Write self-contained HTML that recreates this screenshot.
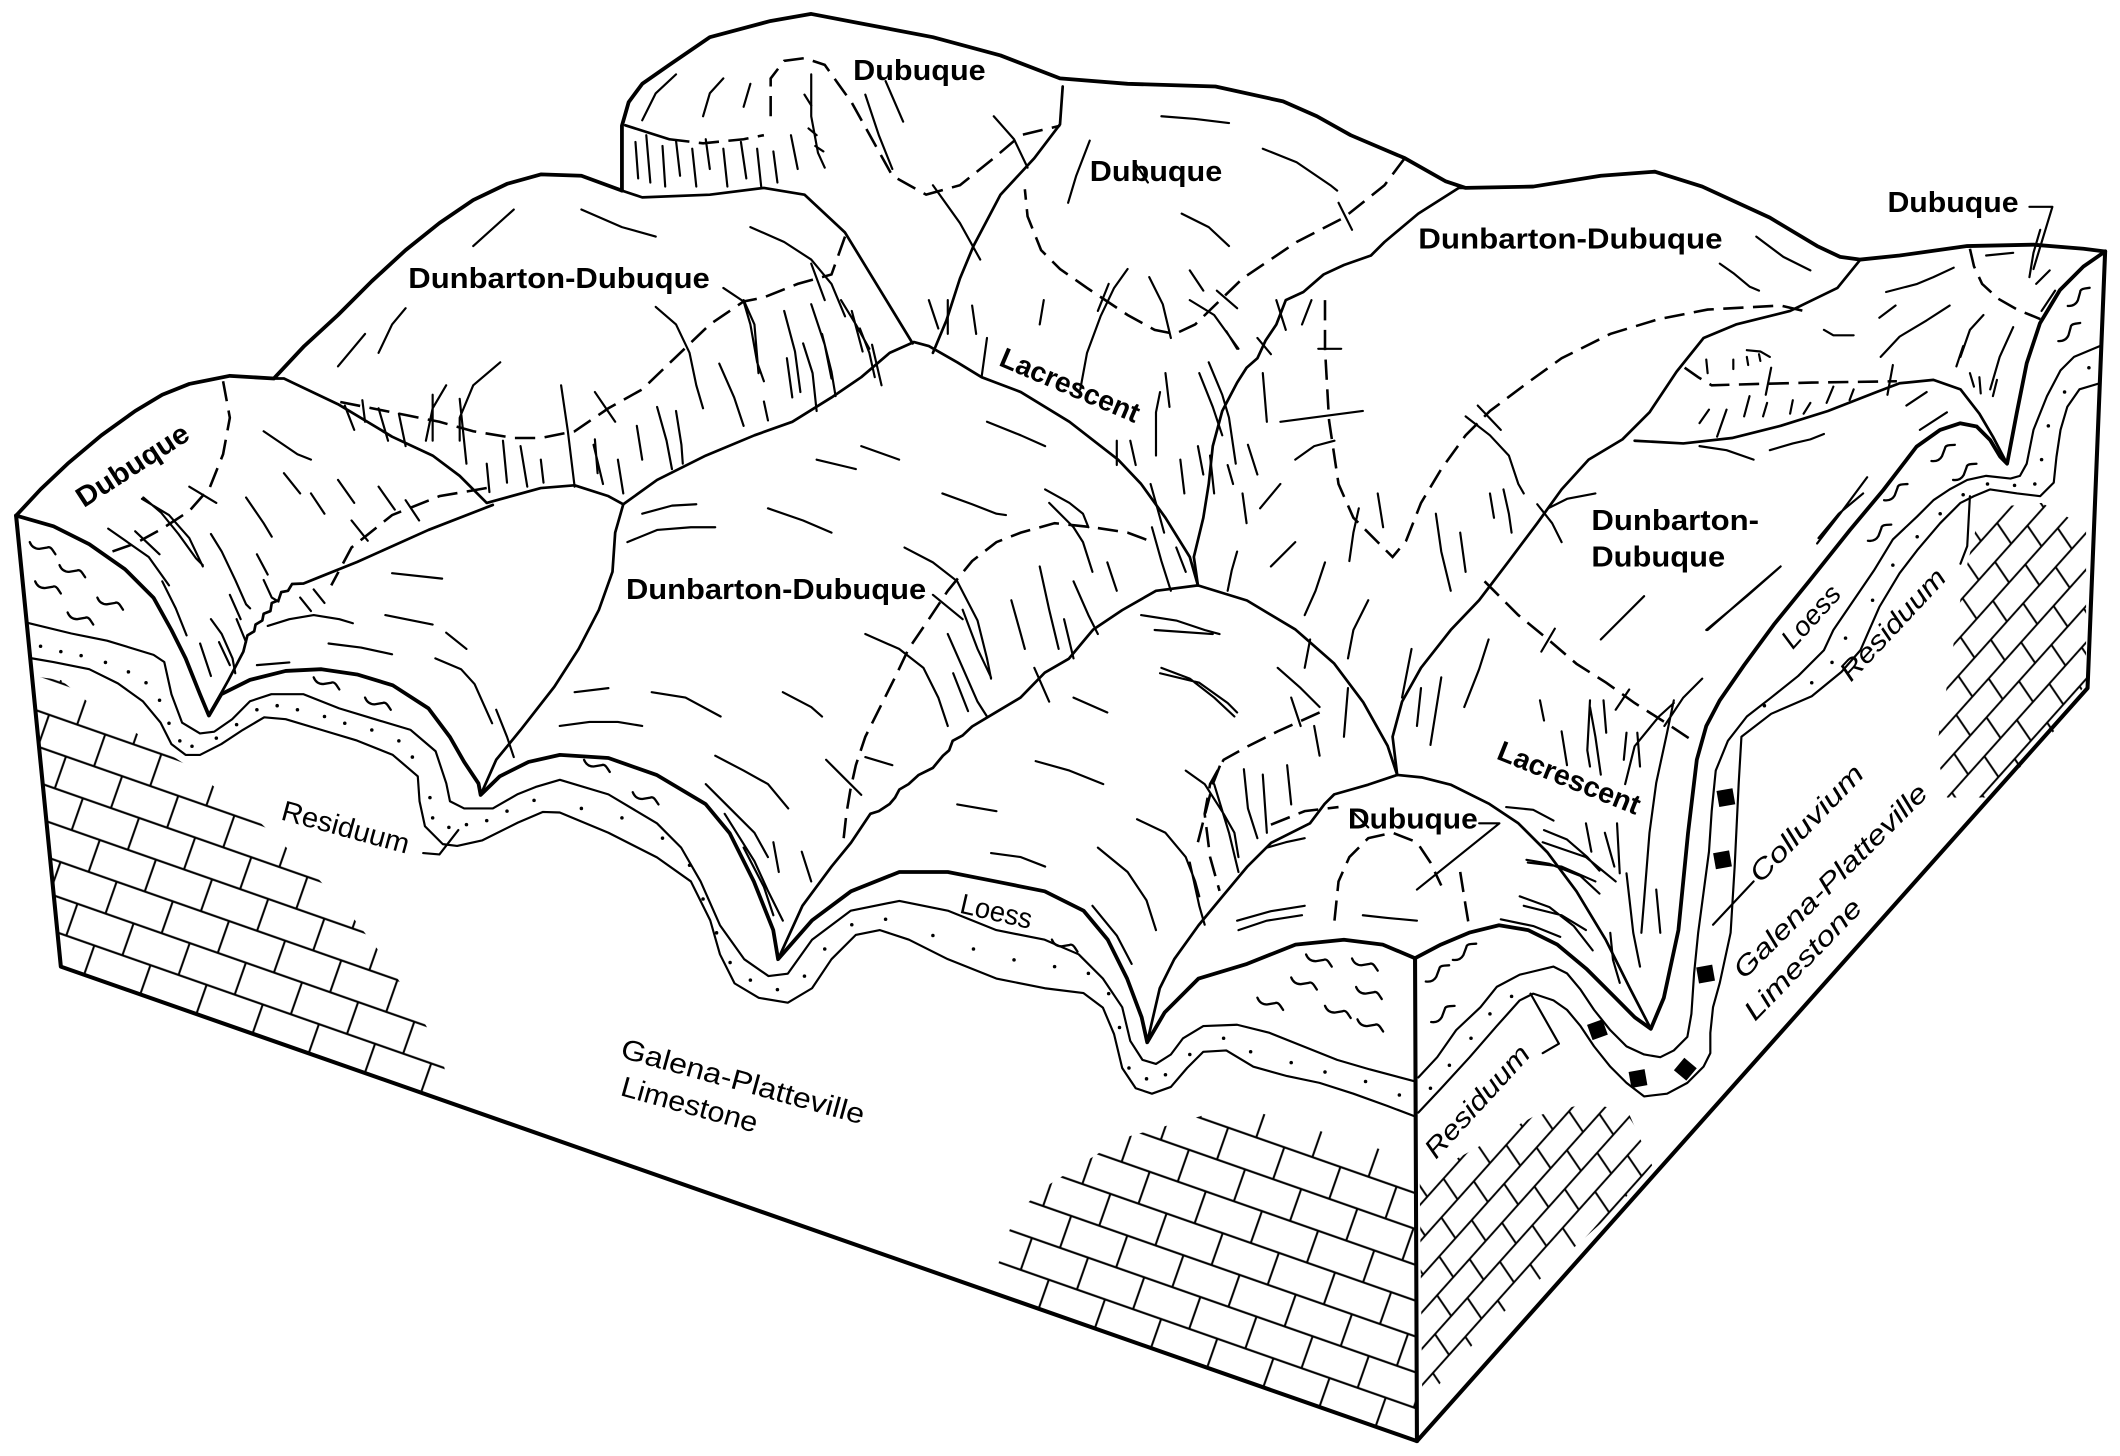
<!DOCTYPE html>
<html><head><meta charset="utf-8"><style>
html,body{margin:0;padding:0;background:#fff;}
svg{display:block;}
.k{fill:none;stroke:#000;stroke-width:2.8;stroke-linejoin:round;stroke-linecap:round;}
.b{fill:none;stroke:#000;stroke-width:3.0;stroke-linejoin:round;stroke-linecap:round;}
.m{fill:none;stroke:#000;stroke-width:2.0;stroke-linejoin:round;stroke-linecap:round;}
.t{fill:none;stroke:#000;stroke-width:1.6;stroke-linejoin:round;stroke-linecap:round;}
.d{fill:none;stroke:#000;stroke-width:1.9;stroke-dasharray:15 7;stroke-linecap:butt;}
.lb{font-family:"Liberation Sans",sans-serif;font-weight:bold;font-size:21px;fill:#000;}
.lr{font-family:"Liberation Sans",sans-serif;font-size:21px;fill:#000;}
.li{font-family:"Liberation Sans",sans-serif;font-style:italic;font-size:20px;fill:#000;}
</style></head><body>
<svg width="2120" height="1456" viewBox="0 0 1568 1077" preserveAspectRatio="none" xmlns="http://www.w3.org/2000/svg">
<defs>
<pattern id="bf" patternUnits="userSpaceOnUse" width="44" height="50" patternTransform="rotate(19.3)">
<path d="M0,12H44M0,37H44M11,12V37M33,37V50M33,0V12" stroke="#000" stroke-width="1.5" fill="none"/>
</pattern>
<pattern id="br" patternUnits="userSpaceOnUse" width="36" height="36" patternTransform="rotate(-48.2) skewX(-14)">
<path d="M0,9H36M0,27H36M9,9V27M27,27V36M27,0V9" stroke="#000" stroke-width="1.5" fill="none"/>
</pattern>
<clipPath id="cL"><polygon points="23,500 45,503 66,520 138,566 192,608 231,645 262,680 287,712 305,742 325,775 335,815 45,715"/></clipPath>
<clipPath id="cF"><polygon points="735,945 750,900 770,880 830,842 915,818 1047,858 1048,1066 735,956"/></clipPath>
<clipPath id="cR"><polygon points="1050,872 1094,848 1134,826 1174,816 1204,822 1222,862 1194,896 1164,923 1134,951 1104,978 1074,1012 1052,1040"/></clipPath>
<clipPath id="cR2"><polygon points="1465,376 1510,372 1543,390 1543,505 1520,540 1490,572 1470,590 1440,590 1432,555 1442,495 1452,430"/></clipPath>
<path id="w" d="M0,-4 Q2,1 7,1 L13,0 Q15,-1 17,2 L19,5" fill="none" stroke="#000" stroke-width="1.7" stroke-linecap="round"/>
</defs>
<rect x="0" y="0" width="1568" height="1077" fill="#fff"/>

<!-- bricks -->
<rect x="0" y="400" width="400" height="450" fill="url(#bf)" clip-path="url(#cL)"/>
<rect x="700" y="800" width="360" height="280" fill="url(#bf)" clip-path="url(#cF)"/>
<rect x="1040" y="800" width="200" height="260" fill="url(#br)" clip-path="url(#cR)"/>
<rect x="1420" y="360" width="140" height="240" fill="url(#br)" clip-path="url(#cR2)"/>

<!-- block outline -->
<polyline class="b" points="11.9,381.4 45,715 1048,1066 1544,509 1557,186"/>
<polyline class="b" points="1046.6,708.8 1048,1066"/>

<!-- front face layers -->
<polyline class="t" points="19.5,460.5 52.8,468.6 79.2,473.9 113.6,484.4 121.5,489.7 126.8,513.5 134.7,534.6 147.9,542.5 158.5,541.2 171.7,532 184.9,518.7 200.7,513.5 224.5,513.5 250.9,524 277.3,532 303.7,539.9 322.2,555.7 330.1,579.5 332.8,592.7 343.3,598 364.5,598 383,587.4 396.2,582.1 414.1,576.8 450,587.6 485.9,609 503.8,627 518.2,652 532.5,684.4 550.4,709.5 568.4,722 582.7,720.2 600.6,695.1 629.3,673.6 665.2,666.4 701,673.6 736.9,688 772.7,695.1 797.8,705.9 815.7,723.8 830,745 836,770 845,784 855,787 866,780 875,768 890,759 915,758 939,764 964,774 989,784 1013,791 1047,800"/>
<polyline class="t" points="23.8,487 39.6,489.7 66,495 87.2,505.5 105.6,518.7 118.8,534.6 126.8,550.4 137.3,558.4 147.9,558.4 163.7,550.4 179.6,539.9 195.4,530.6 211.3,532 237.7,539.9 264.1,547.8 290.5,558.4 309,574.2 310.3,592.7 314.3,611.2 327.5,624.4 338.1,625.7 356.5,621.7 383,608.5 401.4,600.6 414,601 450,616 485.9,634.2 511,652 525.3,680.8 532.5,705.9 543.3,727.4 561.2,738.1 582.7,741.7 600.6,731 615,709.5 632.9,691.6 650.8,688 672.3,695.1 701,709.5 736.9,723.8 772.7,731 801.4,734.6 815.7,745.3 824,765 830,790 840,805 852,809 866,804 878,790 890,778 907,777 927,789 952,796 976,801 1001,809 1026,818 1047,826"/>
<!-- right face layers -->
<polyline class="t" points="1049,797 1063,782 1077,762 1095,745 1107,730 1124,721 1149,715 1159,720 1169,732 1179,747 1191,762 1203,774 1216,780 1228,782 1238,777 1248,767 1251,750 1253,720 1256,690 1260,660 1264,630 1266,600 1269,570 1278,548 1292,530 1310,516 1330,500 1349,481 1356,466 1371,444 1386,422 1400,399 1418,382 1430,370 1442,362 1455,355 1469,352 1487,354 1494,352 1499,343 1504,318 1514,293 1524,274 1534,264 1553,256"/>
<polyline class="t" points="1049,823 1065,806 1087,782 1107,759 1124,740 1134,735 1149,740 1159,747 1169,759 1179,774 1191,789 1203,801 1216,811 1233,809 1248,801 1260,789 1265,779 1265,764 1267,745 1272,727 1280,690 1283,641 1286,579 1288,545 1310,528 1340,515 1362,497 1376,481 1390,449 1405,424 1418,407 1435,387 1450,372 1460,367 1472,362 1492,365 1509,367 1519,357 1521,338 1524,318 1529,301 1538,288 1553,283.5"/>

<!-- surface profiles -->
<polyline class="k" points="11.9,381.4 39.6,389.3 66,402.5 92.4,421 113.6,442.2 126.8,466 137.3,487 147.9,513.5 154.5,529.3 163.7,513.5 184.9,502.9 211.3,496.3 237.7,495 264.1,498.9 290.5,506.9 316.9,524 332.8,545.2 343.3,563.6 353.9,579.5 355.5,588 369.7,574.2 390.9,563.6 414.1,558.4 450,560.7 485.6,573.2 521.8,594.7 539.7,616.3 557.6,652.1 571.9,688 575.5,709.5 600.6,680.8 629.4,659.3 665.2,645 701,645 736.9,652.1 772.7,659.3 801.4,673.6 819.3,695.1 833.6,723.8 844.4,752.5 848.5,771 861.4,748.9 886.5,723.8 922.3,713 958.2,698.7 994,695.1 1022.7,698.7 1046.6,708.8"/>
<polyline class="k" points="1046.6,708.8 1065.7,698.7 1087.2,689.7 1108.7,684.4 1130.2,688 1151.8,698.7 1173.3,716.6 1194.8,738.1 1209.1,752.5 1221,761 1230.6,738.1 1241.4,688 1248.5,616.3 1255,562 1262,537 1272,518 1290,492 1312,462 1338,430 1368.3,392 1393,362.4 1417.6,330.3 1434.9,318 1449.7,313.1 1462,315.5 1471.9,325.4 1479.3,337.7 1484.5,343 1491.6,305.7 1499,268.7 1508.8,239.1 1523.6,214.5 1540.9,197.2 1557,186"/>

<!-- skyline and ridges -->
<polyline class="k" points="11.9,381.4 30,362 50,343 75,322 100,304 120,292 140,284 170,278 202.5,280 225,256 250,233 275,208 300,185 325,165 350,148 375,136 400,129 430,130 460,141"/>
<polyline class="k" points="460,141 460,93 465,75.5 475,62 495,48 525,27.5 570,15.5 600,10.3 635,17 690,27.5 740,41 784,58 834,62 899,64 949,75 974,86 999,100 1039,117 1069,134 1084,139 1134,138 1184,130 1224,127 1259,138 1309,161 1344,182 1361,190 1376,192 1405,189 1455,182 1504,181 1541,184 1557,186"/>
<polyline class="m" points="202.5,280 210,280 250,299 290,323 320,337 340,352 360,372 400,361 425,359 450,367 461,373"/>
<polyline class="m" points="461,373 486,355 522,337 558,322 586,312 615,294 637,279 658,261 676,253 687,256 708,268 726,279 755,290 791,312 827,340 844,358 862,383 880,412 886,433"/>
<polyline class="m" points="461,373 455,394 453,423 443,451 428,480 410,508 385,540 367,562 355.5,588"/>
<polyline class="m" points="575.5,709.5 593.5,670 615,641 629.4,623.4 643.7,602 650,600 658,594.7 662,590 665.2,584 672,580 679.5,573.2 690,568 697.4,559 702,555 704.6,548 712,544 719,537.4 737,526.6 754.8,516 772.7,497.6 790.6,487.2 808.5,465.7 830,451.3 855,437 886,433 922.3,444.2 958.2,465.7 986.8,490.8 1008.3,519.5 1026.3,551.7 1033.4,573.2"/>
<polyline class="m" points="1033.4,573.2 1012,580.4 986.8,587.6 979.7,594.7 968.9,609 940.2,623.4 922.3,641.3 904.4,662.8 886.5,684.4 868.5,709.5 857.8,731 848.5,771"/>
<polyline class="m" points="1033.4,573.2 1051.4,575 1072.9,580.4 1101.6,594.7 1123,609 1144.6,630.6 1166,659.3 1187.6,695.1 1205.5,731 1221,761"/>
<polyline class="m" points="1376,192 1359,213 1324,230 1284,240 1260,250 1240,275 1220,305 1200,325 1175,340 1155,362 1137,387 1116,415 1094,444 1073,466 1051,494 1037,519 1030,545 1033.4,573.2"/>
<polyline class="m" points="1209,326 1245,328 1281,324 1317,315 1352,304 1388,290 1405,283.5 1430,281 1450,288 1464,306 1474,323 1484.5,343"/>
<polyline class="m" points="1084,139 1079,139 1049,158 1024,179 1014,189 994,196 979,203 964,216 951,222 944,240 936,252 930,265 922,272 915,283 904,304 897,330 894,358 890,383 883,412 886,433"/>
<polyline class="m" points="460,141 475,146 525,144 565,139 595,144 625,172 650,213 675,254"/>
<polyline class="m" points="462.5,92.7 495,103"/>
<polyline class="m" points="364.5,373.5 316.9,392 264.1,415.7 237.7,426.3 224.5,431.6 216,432 213,437 208,438 206,444 201,446 200,452 195,454 194,459 189,462 188,467 183,470 180,482 169,503 155.8,526.7"/>
<polyline class="m" points="786,64 784,92 765,117 740,144 720,182 710,206 700,237 690,261"/>
<polyline class="t" points="600,55 600,86 605,113 610,124"/>
<polyline class="t" points="730,250 726,279"/>

<!-- dashed soil boundaries -->
<g class="d">
<polyline points="570,86 570,58 580,45 595,43 610,48 620,62 630,76 645,103 660,130 685,144 710,137 735,117 755,100 784,93"/>
<polyline points="495,103 520,106 550,103 565,100"/>
<polyline points="1039,117 1024,137 994,161 959,179 919,206 884,240 869,247 854,244 834,233 804,213 784,199 770,185 760,160 758,140"/>
<polyline points="625,175 615,203 590,210 565,220 550,223 525,240 500,264 475,288 450,302 425,319 400,324 380,324 350,319 325,312 300,307 275,302 250,297"/>
<polyline points="165,282 170,309 165,336 155,361 140,378 120,391 100,402 80,409"/>
<polyline points="360,361 325,367 290,381 260,405 245,433"/>
<polyline points="624,620 626,602 629,584 633,566 640,545 651,523 662,501 672,480 687,458 701,437 719,415 737,401 755,394 780,387 808,390 834,394 850,400"/>
<polyline points="976,527 945,541 923,552 905,562 895,580 891,602 895,634 902,659"/>
<polyline points="980,222 980,258 983,311 990,358 1001,383 1019,401 1030,412 1040,400 1051,372 1066,347 1084,322 1102,304 1130,283 1155,265 1191,247 1227,236 1263,229 1317,226 1334,230"/>
<polyline points="1098,430 1123,455 1145,473 1166,491 1188,505 1209,520 1231,534 1252,548"/>
<polyline points="1246,272 1256,279 1266,285 1300,284 1340,283 1403,282"/>
<polyline points="1457,184 1460,197 1466,210 1478,221 1492,229 1509,236"/>
<polyline points="987,681 990,652 998,634 1012,620 1030,616 1048,623 1058,638 1066,655"/>
<polyline points="1080,645 1084,670 1087,688"/>
<polyline points="886,623 897,580 904,562"/>
<polyline points="940,610 965,600 990,597"/>
</g>

<!-- hachures and form lines -->
<path class="t" d="
M195,319 L220,336 L230,340 M105,369 L125,381 L140,398 L150,419 M80,391 L110,412 L125,433
M106,368 L119,379 L132,395 L145,413 L150,418 M156,395 L164,408 L174,429 L182,447 L185,450
M182,368 L195,387 L201,397 M148,476 L156,500 M156,458 L164,469 L172,487 L174,498 M195,429 L201,442 L206,445
M120,430 L130,450 L138,470 M170,440 L178,458 M190,410 L198,425 M210,350 L222,365 M230,365 L240,380
M250,355 L262,372 M260,385 L272,400 M280,360 L292,377 M300,370 L310,385
M198,463 L214,458 L232,455 L251,458 L261,461 M285,455 L320,462 M243,476 L267,479 L290,484 M190,492 L214,490
M290,424 L327,428 M322,487 L341,495 L351,506 L364,535 M367,525 L375,545 L380,560 M330,468 L345,480
M162,475 L170,492 M175,458 L182,475 M222,442 L230,452 M232,436 L240,446
M280,302 L287,326 M295,306 L300,330 M320,292 L320,326 M340,295 L345,343 M360,343 L362,364 M372,326 L375,357
M385,330 L390,360 M400,340 L402,357 M415,285 L420,319 L425,360 M440,325 L442,350 M255,300 L262,318 M268,296 L270,312
M350,182 L380,155 M430,155 L460,168 L485,175 M555,168 L580,179 L600,192 L615,210 L625,234
M485,227 L500,240 L510,261 L515,285 L520,302 M535,213 L550,223 L555,240 L560,268 L565,282
M300,228 L290,240 L280,261 M270,247 L250,271 M370,268 L350,285 L340,309 L340,326 M330,285 L320,302 L315,326
M580,230 L588,260 L592,290 M600,225 L610,255 L615,280 M630,230 L638,260 M645,255 L652,285
M690,137 L710,165 L725,192 M735,86 L750,103 L760,124 M859,86 L884,88 L909,91 M934,110 L959,120 L984,137 L989,141
M874,158 L894,168 L909,182 M834,199 L824,213 L814,234 L804,261 L799,288 M894,268 L904,292 L909,309 L914,343
M640,70 L650,100 L660,125 M655,60 L668,90 M595,70 L600,78 M598,95 L604,100 M603,108 L609,112
M550,222 L558,240 L561,276 M582,265 L586,294 M594,254 L601,276 L604,304 M608,247 L615,275 L618,293
M622,222 L633,240 L643,258 M636,243 L643,261 L647,279 M471,315 L475,340 M486,301 L493,326 L497,347
M439,329 L446,358 M457,340 L461,365 M500,304 L504,329 L505,343 M532,269 L543,294 L550,315 M565,297 L568,311
M687,222 L694,243 M701,222 L701,247 M719,226 L722,247 M772,222 L769,240
M880,222 L898,233 L916,258 M944,222 L951,244 M970,222 L963,240 M934,276 L937,312 M887,276 L897,301 L904,322
M862,276 L865,301 M858,290 L855,305 L855,337 M826,326 L826,344 M836,326 L840,344 M873,340 L876,365 M895,337 L898,365
M923,329 L930,351 M839,120 L849,135 M806,104 L796,130 L790,150 M820,210 L812,230 M850,205 L860,225 L866,250 M880,200 L890,215
M947,312 L1008,304 M958,340 L972,330 L987,326 M915,408 L911,422 L908,437 M932,376 L947,358 M940,419 L958,401
M980,416 L973,437 L965,455 M1005,376 L1001,394 L998,415 M1019,365 L1023,390
M1084,308 L1102,322 L1116,337 L1123,358 L1127,365 M1102,365 L1105,383 M1112,362 L1116,380 L1118,394 M1137,373 L1148,387 L1155,401
M1044,480 L1037,516 M1051,509 L1048,537 M1066,501 L1062,526 L1058,551 M1062,380 L1066,408 L1073,437 M1080,394 L1084,423
M1101,473 L1094,495 L1083,523 M1012,444 L1001,466 L997,487 M997,509 L994,545 M969,473 L965,494 M955,516 L962,537 M972,537 L976,559
M930,250 L940,262 M907,245 L915,258 M854,466 L897,469 M858,498 L887,505 L908,520 L915,527 M851,358 L858,383 L861,394
M886,330 L890,351 M908,344 L912,358 M919,365 L922,387
M1145,376 L1159,369 L1180,365 M1184,473 L1202,455 L1216,441 M1263,466 L1288,444 L1317,419 M1231,537 L1245,516 L1259,502
M1345,398 L1360,380 L1378,365 M1202,580 L1209,552 L1227,530 L1238,520 M1176,523 L1180,545 L1184,573 M1155,541 L1159,566
M1173,609 L1177,630 M1187,616 L1194,641 M1238,518 L1233,542 L1225,579 L1220,616 L1216,666 L1214,690
M1225,658 L1228,690 M1196,609 L1198,646 M1203,646 L1208,690 L1213,715 M1191,690 L1193,710 L1198,727
M1176,518 L1174,555 L1176,567 M1186,518 L1188,542 M1203,542 L1201,562 M1211,542 L1213,567 M1139,518 L1142,533
M1124,663 L1146,671 L1164,685 L1178,703 M1110,680 L1134,685 L1154,693 M1129,636 L1146,639 L1169,648 L1183,661
M1142,614 L1159,621 L1174,634 L1183,644 M1114,597 L1134,599 L1149,607
M475,380 L497,374 L515,373 M464,401 L486,392 L511,390 L529,390 M568,376 L594,385 L615,394 M604,340 L629,346 L633,347
M637,330 L665,340 M730,312 L755,322 L773,330 M697,365 L719,373 L737,380 L744,381 M773,362 L791,372 L801,380 L805,390
M669,405 L690,416 L708,430 L723,459 L730,487 L733,502 M640,469 L665,480 L683,494 L694,516 L701,537
M579,512 L600,523 L608,530 M482,512 L507,516 L533,530 M425,512 L450,509 M414,537 L436,534 L457,534 L475,537
M529,559 L550,570 L568,580 L583,598 M522,580 L540,598 L558,616 L568,634 M611,562 L626,577 L637,588
M572,623 L576,645 M593,630 L600,652 M550,627 L565,656 L572,677 M536,602 L558,637 L568,659 L579,681
M701,469 L712,494 L723,519 L730,530 M712,451 L723,480 L733,501 M748,444 L755,469 L758,480 M769,419 L776,451 L783,480
M794,430 L805,455 L812,469 M819,416 L826,437 M852,390 L859,415 L866,437 M870,405 L877,423 M787,458 L794,487 M765,494 L776,519
M776,372 L794,390 L801,401 L808,423 M705,498 L716,526
M766,563 L791,570 L816,580 M708,595 L737,600 M794,516 L819,527 M859,494 L880,502 L898,516 L913,530 M844,455 L870,459 L891,466 L902,469
M877,570 L891,580 L905,602 L913,616 L916,634 M841,606 L862,616 L877,634 L884,652 L887,663 M812,627 L834,645 L848,666 L855,688
M808,670 L826,692 L837,713 M733,631 L755,634 L773,641 M945,494 L962,509 L976,523 M916,688 L937,681 L963,677
M898,580 L909,616 L916,645 M920,569 L923,598 L930,620 M934,573 L937,616 M952,566 L955,595 M880,638 L887,670 L891,684
M915,681 L940,674 L965,670 M1008,677 L1026,679 L1048,681 M1127,670 L1155,677 L1173,688 M1130,638 L1155,641 L1180,652
M1141,623 L1173,634 L1195,652 M937,627 L951,623 L965,620
M1395,216 L1418,210 L1430,205 L1445,198 M1391,264 L1405,249 L1425,237 L1442,226 M1349,244 L1356,248 L1371,248
M1292,259 L1302,260 L1309,264 M1299,175 L1319,190 L1339,200 M1272,195 L1282,202 L1294,212 L1301,215
M1450,264 L1457,244 L1467,233 M1447,271 L1452,256 M1472,288 L1479,264 L1489,242 M1474,293 L1477,281 M1457,276 L1460,286 M1464,279 L1465,291
M1501,205 L1504,187 L1509,170 M1469,189 L1489,187 M1506,210 L1516,200
M1262,266 L1263,276 M1282,266 L1282,273 M1292,264 L1293,270 M1301,262 L1302,267
M1257,313 L1264,303 M1270,323 L1277,303 M1290,308 L1294,293 M1304,308 L1307,298 M1324,306 L1326,296 M1334,306 L1339,298 M1351,298 L1356,286 M1368,296 L1371,288
M1309,333 L1326,328 L1339,325 L1349,321 M1257,330 L1277,333 L1297,340 M1344,402 L1361,380 L1381,353 M1262,466 L1292,441 L1317,419
M1390,235 L1402,226 M1410,300 L1425,290 M1420,318 L1440,305
M470,105 L472,132 M478,100 L481,135 M490,108 L492,138 M500,104 L503,130 M512,110 L515,138 M522,103 L525,125
M535,110 L538,138 M548,105 L552,132 M560,110 L563,138 M572,112 L575,135 M585,100 L590,125
M475,89 L485,69 L500,55 M520,86 L525,69 L535,58 M550,79 L555,62
M440,290 L455,312 M600,195 L610,222 M990,150 L1000,170 M900,215 L915,228 M690,440 L712,458 M640,560 L660,566
M975,258 L992,258 M1093,300 L1110,318 M1150,465 L1140,482 M1205,510 L1195,525 M140,360 L160,372 M100,393 L118,410
M1310,272 L1306,292 M1400,270 L1396,292 M1510,230 L1520,215 M1000,600 L1012,612
"/>

<!-- leaders -->
<path class="t" d="M1501,153 L1518,153 L1504,199 M1094,609 L1109,609 L1048,658 M313,631 L325,632 L339,614 M1141,779 L1153,772 L1132,735 M1450,417 L1455,404 L1457,367 M1267,684 L1297,652"/>

<!-- loess marks -->
<g>
<use href="#w" x="22" y="405"/><use href="#w" x="44" y="422"/><use href="#w" x="26" y="434"/><use href="#w" x="72" y="446"/><use href="#w" x="50" y="457"/>
<use href="#w" x="232" y="505"/><use href="#w" x="270" y="520"/><use href="#w" x="432" y="566"/><use href="#w" x="468" y="590"/><use href="#w" x="778" y="699"/>
<use href="#w" x="930" y="742"/><use href="#w" x="955" y="727"/><use href="#w" x="966" y="710"/><use href="#w" x="1000" y="713"/><use href="#w" x="1003" y="734"/><use href="#w" x="1004" y="758"/><use href="#w" x="980" y="748"/>
<use href="#w" transform="translate(1058,728) rotate(-60)"/><use href="#w" transform="translate(1078,712) rotate(-60)"/><use href="#w" transform="translate(1062,758) rotate(-60)"/>
<use href="#w" transform="translate(1533,228) rotate(-65)"/><use href="#w" transform="translate(1526,254) rotate(-65)"/><use href="#w" transform="translate(1432,343) rotate(-60)"/>
<use href="#w" transform="translate(1397,372) rotate(-60)"/><use href="#w" transform="translate(1385,402) rotate(-60)"/><use href="#w" transform="translate(1448,357) rotate(-60)"/>
</g>

<!-- residuum dots -->
<g fill="#000">
<circle cx="30" cy="478" r="1.3"/><circle cx="45" cy="482" r="1.3"/><circle cx="60" cy="485" r="1.3"/><circle cx="78" cy="490" r="1.3"/><circle cx="95" cy="497" r="1.3"/><circle cx="108" cy="505" r="1.3"/><circle cx="118" cy="518" r="1.3"/><circle cx="125" cy="535" r="1.3"/><circle cx="133" cy="548" r="1.3"/><circle cx="142" cy="552" r="1.3"/><circle cx="160" cy="546" r="1.3"/><circle cx="175" cy="536" r="1.3"/><circle cx="190" cy="525" r="1.3"/><circle cx="205" cy="522" r="1.3"/><circle cx="220" cy="525" r="1.3"/><circle cx="240" cy="530" r="1.3"/><circle cx="255" cy="535" r="1.3"/><circle cx="275" cy="540" r="1.3"/><circle cx="295" cy="548" r="1.3"/><circle cx="305" cy="560" r="1.3"/><circle cx="318" cy="590" r="1.3"/><circle cx="320" cy="605" r="1.3"/><circle cx="332" cy="612" r="1.3"/><circle cx="345" cy="610" r="1.3"/><circle cx="360" cy="607" r="1.3"/><circle cx="375" cy="600" r="1.3"/><circle cx="395" cy="592" r="1.3"/><circle cx="430" cy="598" r="1.3"/><circle cx="460" cy="605" r="1.3"/><circle cx="490" cy="620" r="1.3"/><circle cx="510" cy="640" r="1.3"/><circle cx="520" cy="665" r="1.3"/><circle cx="530" cy="690" r="1.3"/><circle cx="540" cy="712" r="1.3"/><circle cx="555" cy="725" r="1.3"/><circle cx="575" cy="732" r="1.3"/><circle cx="595" cy="722" r="1.3"/><circle cx="610" cy="702" r="1.3"/><circle cx="630" cy="684" r="1.3"/><circle cx="655" cy="680" r="1.3"/><circle cx="690" cy="692" r="1.3"/><circle cx="720" cy="702" r="1.3"/><circle cx="750" cy="710" r="1.3"/><circle cx="780" cy="715" r="1.3"/><circle cx="805" cy="720" r="1.3"/><circle cx="820" cy="735" r="1.3"/><circle cx="828" cy="760" r="1.3"/><circle cx="835" cy="790" r="1.3"/><circle cx="848" cy="798" r="1.3"/><circle cx="862" cy="795" r="1.3"/><circle cx="880" cy="780" r="1.3"/><circle cx="905" cy="768" r="1.3"/><circle cx="925" cy="778" r="1.3"/><circle cx="955" cy="786" r="1.3"/><circle cx="980" cy="793" r="1.3"/><circle cx="1010" cy="800" r="1.3"/><circle cx="1035" cy="810" r="1.3"/>
<circle cx="1058" cy="805" r="1.3"/><circle cx="1072" cy="788" r="1.3"/><circle cx="1088" cy="768" r="1.3"/><circle cx="1102" cy="750" r="1.3"/><circle cx="1118" cy="737" r="1.3"/>
<circle cx="1340" cy="505" r="1.3"/><circle cx="1355" cy="490" r="1.3"/><circle cx="1365" cy="472" r="1.3"/><circle cx="1385" cy="444" r="1.3"/><circle cx="1400" cy="418" r="1.3"/><circle cx="1418" cy="397" r="1.3"/><circle cx="1435" cy="380" r="1.3"/><circle cx="1452" cy="366" r="1.3"/><circle cx="1470" cy="358" r="1.3"/><circle cx="1490" cy="359" r="1.3"/><circle cx="1505" cy="358" r="1.3"/><circle cx="1510" cy="340" r="1.3"/><circle cx="1515" cy="315" r="1.3"/><circle cx="1527" cy="290" r="1.3"/><circle cx="1545" cy="272" r="1.3"/><circle cx="1305" cy="522" r="1.3"/>
</g>

<!-- colluvium squares -->
<g fill="#000">
<rect x="1270.5" y="584" width="12" height="12" transform="rotate(-10 1276.5 590)"/>
<rect x="1268" y="630" width="12" height="12" transform="rotate(-10 1274 636)"/>
<rect x="1255.5" y="714.5" width="12" height="12" transform="rotate(-10 1261.5 720.5)"/>
<rect x="1175.5" y="755.7" width="12" height="12" transform="rotate(-20 1181.5 761.7)"/>
<rect x="1205.5" y="791.8" width="12" height="12" transform="rotate(-10 1211.5 797.8)"/>
<rect x="1240.5" y="784.9" width="12" height="12" transform="rotate(40 1246.5 790.9)"/>
</g>

<!-- labels -->
<text class="lb" x="631" y="59" textLength="98" lengthAdjust="spacingAndGlyphs">Dubuque</text>
<text class="lb" x="806" y="134" textLength="98" lengthAdjust="spacingAndGlyphs">Dubuque</text>
<text class="lb" x="302" y="213" textLength="223" lengthAdjust="spacingAndGlyphs">Dunbarton-Dubuque</text>
<text class="lb" x="1049" y="184" textLength="225" lengthAdjust="spacingAndGlyphs">Dunbarton-Dubuque</text>
<text class="lb" x="1396" y="157" textLength="97" lengthAdjust="spacingAndGlyphs">Dubuque</text>
<text class="lb" x="62" y="376" transform="rotate(-33 62 376)" textLength="95" lengthAdjust="spacingAndGlyphs">Dubuque</text>
<text class="lb" x="463" y="443" textLength="222" lengthAdjust="spacingAndGlyphs">Dunbarton-Dubuque</text>
<text class="lb" x="738" y="270" transform="rotate(23 738 270)" textLength="110" lengthAdjust="spacingAndGlyphs">Lacrescent</text>
<text class="lb" x="1177" y="392" textLength="124" lengthAdjust="spacingAndGlyphs">Dunbarton-</text>
<text class="lb" x="1177" y="419" textLength="99" lengthAdjust="spacingAndGlyphs">Dubuque</text>
<text class="lb" x="1106" y="561" transform="rotate(22 1106 561)" textLength="112" lengthAdjust="spacingAndGlyphs">Lacrescent</text>
<text class="lb" x="997" y="613" textLength="96" lengthAdjust="spacingAndGlyphs">Dubuque</text>
<text class="lr" x="207" y="606" transform="rotate(15.3 207 606)" textLength="97" lengthAdjust="spacingAndGlyphs">Residuum</text>
<text class="lr" x="709" y="675" transform="rotate(13 709 675)" textLength="54" lengthAdjust="spacingAndGlyphs">Loess</text>
<text class="lr" x="458" y="782" transform="rotate(15.5 458 782)" textLength="186" lengthAdjust="spacingAndGlyphs">Galena-Platteville</text>
<text class="lr" x="458" y="810" transform="rotate(15.5 458 810)" textLength="104" lengthAdjust="spacingAndGlyphs">Limestone</text>
<text class="li" x="1326" y="481" transform="rotate(-48 1326 481)" textLength="55" lengthAdjust="spacingAndGlyphs">Loess</text>
<text class="li" x="1369" y="505" transform="rotate(-47 1369 505)" textLength="105" lengthAdjust="spacingAndGlyphs">Residuum</text>
<text class="li" x="1302" y="654" transform="rotate(-46 1302 654)" textLength="112" lengthAdjust="spacingAndGlyphs">Colluvium</text>
<text class="li" x="1290" y="725" transform="rotate(-45 1290 725)" textLength="194" lengthAdjust="spacingAndGlyphs">Galena-Platteville</text>
<text class="li" x="1298" y="756" transform="rotate(-46 1298 756)" textLength="116" lengthAdjust="spacingAndGlyphs">Limestone</text>
<text class="li" x="1062" y="858" transform="rotate(-47.5 1062 858)" textLength="105" lengthAdjust="spacingAndGlyphs">Residuum</text>
</svg>
</body></html>
